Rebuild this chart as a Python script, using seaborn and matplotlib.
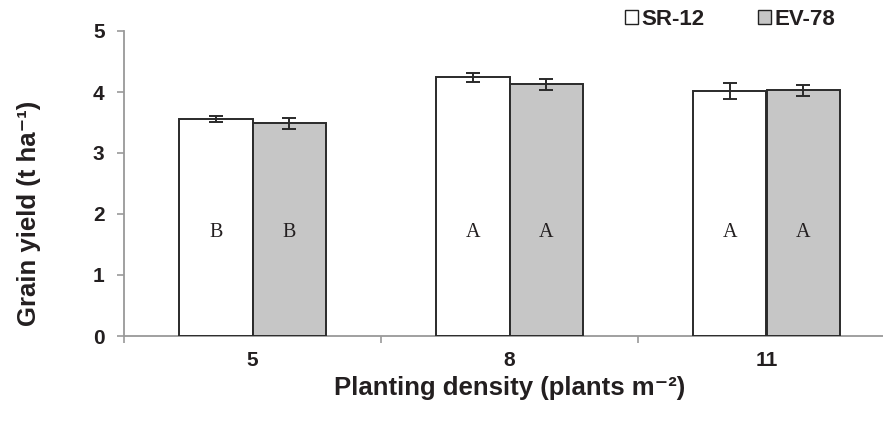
import numpy as np
import pandas as pd
import matplotlib
matplotlib.use("Agg")
import matplotlib.pyplot as plt
from matplotlib.patches import Patch
import seaborn as sns

densities = ["5", "8", "11"]
cultivars = ["SR-12", "EV-78"]
sr12_yield = [3.56, 4.24, 4.02]
ev78_yield = [3.49, 4.13, 4.03]
sr12_err = [0.05, 0.07, 0.13]
ev78_err = [0.09, 0.09, 0.09]
sr12_letters = ["B", "A", "A"]
ev78_letters = ["B", "A", "A"]

df = pd.DataFrame({
    "density": densities * 2,
    "cultivar": [cultivars[0]] * 3 + [cultivars[1]] * 3,
    "yield": sr12_yield + ev78_yield,
    "err": sr12_err + ev78_err,
    "letter": sr12_letters + ev78_letters,
})

sns.set_theme(style="white")
plt.rcParams["font.family"] = ["Liberation Sans", "DejaVu Sans"]
TXT = "#231f20"

fig = plt.figure(figsize=(8.83, 4.25), dpi=100)
ax = fig.add_axes([124 / 883, 1 - 336 / 425, (895 - 124) / 883, (336 - 31) / 425])

fills = {"SR-12": "#ffffff", "EV-78": "#c6c6c6"}
sns.barplot(data=df, x="density", y="yield", hue="cultivar", order=densities,
            hue_order=cultivars, palette=fills, width=0.57, errorbar=None,
            edgecolor="#2a2a2a", linewidth=1.4, legend=False, ax=ax, zorder=2)

# error bars and letters placed on seaborn's bars
bars = [p for p in ax.patches if p.get_height() > 0]
for i, cv in enumerate(cultivars):
    sub = df[df["cultivar"] == cv].set_index("density").loc[densities]
    for j, d in enumerate(densities):
        p = bars[i * len(densities) + j]
        xc = p.get_x() + p.get_width() / 2
        ax.errorbar(xc, sub.loc[d, "yield"], yerr=sub.loc[d, "err"], fmt="none",
                    ecolor="#2a2a2a", elinewidth=1.4, capsize=5, capthick=1.4, zorder=3)
        ax.text(xc, 1.7, sub.loc[d, "letter"], ha="center", va="center",
                fontsize=14.5, family="Liberation Serif", color=TXT, zorder=4)

ax.set_ylim(0, 5)
ax.set_xlim(-0.5, 2.5)
ax.set_yticks([0, 1, 2, 3, 4, 5])
ax.set_xticks([0, 1, 2])
ax.set_xticklabels(densities)
ax.set_xticks([-0.5, 0.5, 1.5], minor=True)

for s in ["top", "right"]:
    ax.spines[s].set_visible(False)
for s in ["left", "bottom"]:
    ax.spines[s].set_color("#999999")
    ax.spines[s].set_linewidth(1.3)
    ax.spines[s].set_zorder(1)

ax.tick_params(axis="y", which="major", direction="out", length=5, width=1.2,
               color="#999999", left=True, pad=9, labelsize=15, labelcolor=TXT)
ax.tick_params(axis="x", which="major", length=0, pad=11, labelsize=15, labelcolor=TXT)
ax.tick_params(axis="x", which="minor", direction="out", length=5, width=1.2,
               color="#999999", bottom=True)
for lab in ax.get_xticklabels() + ax.get_yticklabels():
    lab.set_fontweight("bold")

ax.set_xlabel("Planting density (plants m\u207b\u00b2)", fontsize=18.5,
              fontweight="bold", color=TXT)
ax.set_ylabel("Grain yield (t ha\u207b\u00b9)", fontsize=18.5,
              fontweight="bold", color=TXT)
ax.xaxis.set_label_coords(0.5, -0.132)
ax.yaxis.set_label_coords(-0.108, 0.403)

handles = [Patch(facecolor=fills[c], edgecolor="#222222", linewidth=1.0) for c in cultivars]
fig.legend(handles, cultivars, loc="upper left", bbox_to_anchor=(625 / 883, 1 - 9 / 425),
           ncol=2, frameon=False, handlelength=0.6, handleheight=0.6,
           handletextpad=0.15, columnspacing=2.4, borderpad=0, borderaxespad=0,
           prop={"weight": "bold", "size": 16}, labelcolor=TXT)

fig.savefig("out.png", dpi=100)
